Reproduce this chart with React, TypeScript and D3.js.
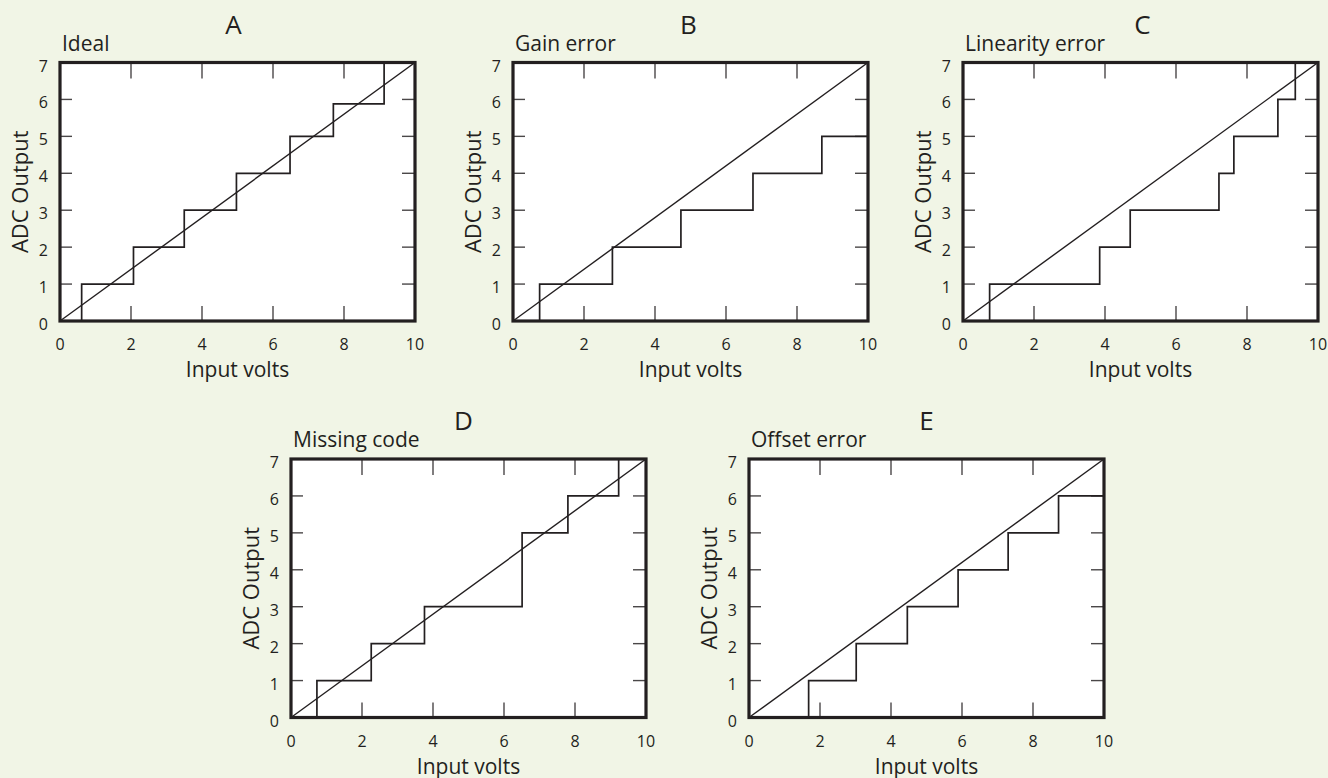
import React, { useEffect } from "react";
import * as d3 from "d3";

// ---- data ----
const panelLetters = ["A", "B", "C", "D", "E"];
const panelNames = ["Ideal", "Gain error", "Linearity error", "Missing code", "Offset error"];
const xTicks = [0, 2, 4, 6, 8, 10];
const yTicks = [0, 1, 2, 3, 4, 5, 6, 7];
const xDomain = [0, 10];
const yDomain = [0, 7];
const idealLine = [[0, 0], [10, 7]];

const thresholdsA = [0.61, 2.07, 3.5, 4.97, 6.48, 7.7, 9.13];
const levelsA = [1, 2, 3, 4, 5, 5.88, 7];
const thresholdsB = [0.75, 2.8, 4.73, 6.76, 8.7];
const levelsB = [1, 2, 3, 4, 5];
const thresholdsC = [0.75, 3.85, 4.71, 7.21, 7.63, 8.87, 9.36];
const levelsC = [1, 2, 3, 4, 5, 6, 7];
const thresholdsD = [0.73, 2.26, 3.76, 6.51, 7.8, 9.23];
const levelsD = [1, 2, 3, 5, 6, 7];
const thresholdsE = [1.68, 3.02, 4.46, 5.89, 7.3, 8.72];
const levelsE = [1, 2, 3, 4, 5, 6];

const panelThresholds = [thresholdsA, thresholdsB, thresholdsC, thresholdsD, thresholdsE];
const panelLevels = [levelsA, levelsB, levelsC, levelsD, levelsE];

// ---- layout ----
const layout = [
  { x: 60, y: 62.5, titleDx: -4 },
  { x: 513, y: 62.5, titleDx: -2 },
  { x: 963, y: 62.5, titleDx: 2 },
  { x: 291, y: 459, titleDx: -5 },
  { x: 749, y: 459, titleDx: 0 },
];
const W = 355;
const H = 258.5;
const INK = "#231f20";
const FONT = "'Open Sans', sans-serif";

function Panel({ idx }: { idx: number }) {
  const L = layout[idx];
  const x = d3.scaleLinear().domain(xDomain).range([0, W]);
  const y = d3.scaleLinear().domain(yDomain).range([H, 0]);
  const th = panelThresholds[idx];
  const lv = panelLevels[idx];
  const pts: [number, number][] = [[th[0], 0]];
  th.forEach((t, i) => pts.push([t, lv[i]]));
  if (lv[lv.length - 1] < yDomain[1]) pts.push([xDomain[1], lv[lv.length - 1]]);
  const step = d3
    .line<[number, number]>()
    .x((d) => x(d[0]))
    .y((d) => y(d[1]))
    .curve(d3.curveStepAfter)(pts) as string;
  const diag = d3
    .line<number[]>()
    .x((d) => x(d[0]))
    .y((d) => y(d[1]))(idealLine) as string;
  const innerX = xTicks.filter((t) => t > xDomain[0] && t < xDomain[1]);
  const innerY = yTicks.filter((t) => t > yDomain[0] && t < yDomain[1]);
  return (
    <g transform={`translate(${L.x},${L.y})`}>
      <rect x={0} y={0} width={W} height={H} fill="#ffffff" />
      {innerX.map((t) => (
        <g key={"xt" + t} stroke="#4a4748" strokeWidth={1.4}>
          <line x1={x(t)} x2={x(t)} y1={H} y2={H - 15} />
          <line x1={x(t)} x2={x(t)} y1={0} y2={16} />
        </g>
      ))}
      {innerY.map((t) => (
        <g key={"yt" + t} stroke="#4a4748" strokeWidth={1.4}>
          <line x1={0} x2={12} y1={y(t)} y2={y(t)} />
          <line x1={W} x2={W - 13} y1={y(t)} y2={y(t)} />
        </g>
      ))}
      <path d={diag} fill="none" stroke={INK} strokeWidth={1.4} />
      <path d={step} fill="none" stroke={INK} strokeWidth={1.7} />
      <rect x={0} y={0} width={W} height={H} fill="none" stroke={INK} strokeWidth={3.2} />
      {xTicks.map((t) => (
        <text key={"xl" + t} x={x(t)} y={H + 29} textAnchor="middle" fontSize={16} fill={INK} fontFamily={FONT}>
          {t}
        </text>
      ))}
      {yTicks.map((t) => (
        <text key={"yl" + t} x={-12} y={y(t) + 9} textAnchor="end" fontSize={16} fill={INK} fontFamily={FONT}>
          {t}
        </text>
      ))}
      <text x={W / 2} y={H + 56} textAnchor="middle" fontSize={21} fill={INK} fontFamily={FONT}>
        Input volts
      </text>
      <text
        transform={`translate(-32,${H / 2}) rotate(-90)`}
        textAnchor="middle"
        fontSize={22}
        fill={INK}
        fontFamily={FONT}
      >
        ADC Output
      </text>
      <text x={2} y={-12} fontSize={21} fill={INK} fontFamily={FONT}>
        {panelNames[idx]}
      </text>
      <text x={W / 2 + L.titleDx} y={-29} textAnchor="middle" fontSize={26} fill={INK} fontFamily={FONT}>
        {panelLetters[idx]}
      </text>
    </g>
  );
}

export default function App() {
  useEffect(() => {
    document.body.style.margin = "0";
    document.body.style.background = "#f1f5e6";
  }, []);
  return (
    <svg
      width={1328}
      height={778}
      style={{ position: "absolute", left: 0, top: 0, display: "block" }}
    >
      <rect x={0} y={0} width={1328} height={778} fill="#f1f5e6" />
      {panelLetters.map((_, i) => (
        <Panel key={i} idx={i} />
      ))}
    </svg>
  );
}
